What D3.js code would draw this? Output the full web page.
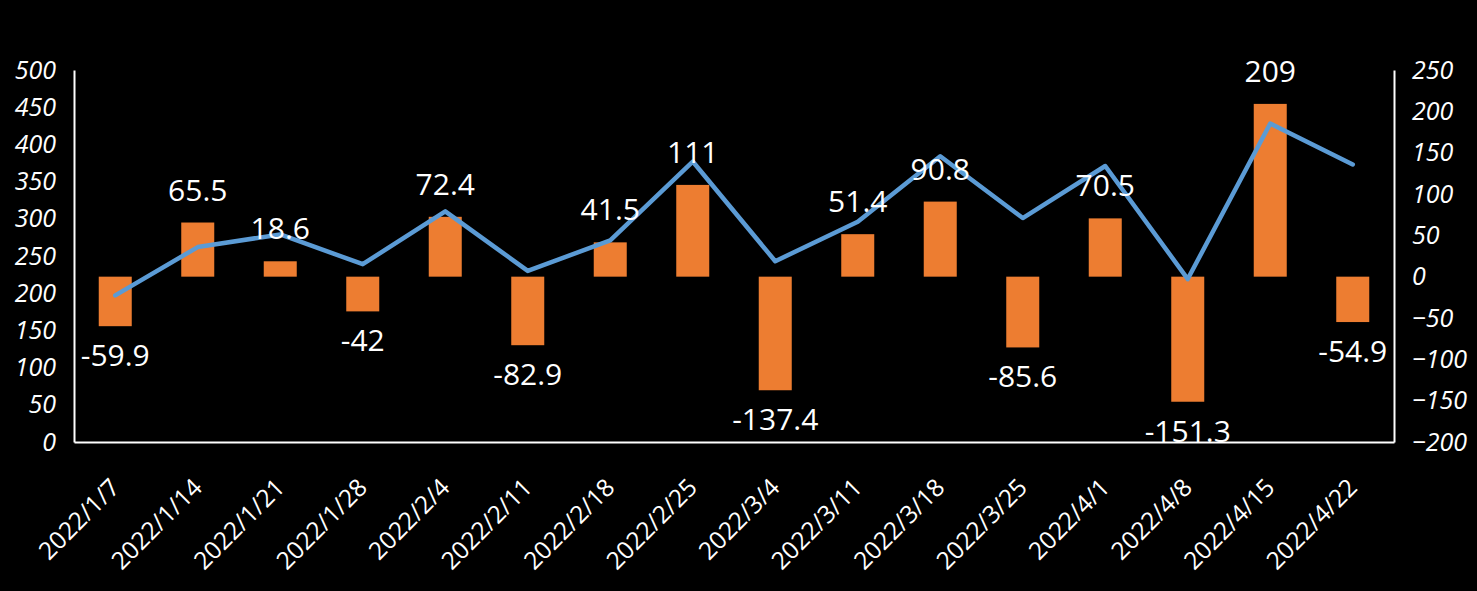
<!DOCTYPE html>
<html>
<head>
<meta charset="utf-8">
<script src="https://cdn.jsdelivr.net/npm/d3@7"></script>
<style>
  html, body { margin: 0; padding: 0; background: #000; }
  svg { display: block; }
  text { font-family: "Open Sans", "Liberation Sans", sans-serif; fill: #fff; }
</style>
</head>
<body>
<script>
const categories = ["2022/1/7","2022/1/14","2022/1/21","2022/1/28","2022/2/4","2022/2/11","2022/2/18","2022/2/25","2022/3/4","2022/3/11","2022/3/18","2022/3/25","2022/4/1","2022/4/8","2022/4/15","2022/4/22"];
const barValues = [-59.9, 65.5, 18.6, -42, 72.4, -82.9, 41.5, 111, -137.4, 51.4, 90.8, -85.6, 70.5, -151.3, 209, -54.9];
const lineValues = [197, 262, 279, 239, 310, 230, 271, 377, 243, 296, 384, 301, 371, 219, 428, 373];
const leftTicks = [0, 50, 100, 150, 200, 250, 300, 350, 400, 450, 500];
const rightTicks = [-200, -150, -100, -50, 0, 50, 100, 150, 200, 250];

const W = 1477, H = 591;
const m = { left: 74, right: 83, top: 70, bottom: 149 };
const iw = W - m.left - m.right, ih = H - m.top - m.bottom;

const svg = d3.select("body").append("svg").attr("width", W).attr("height", H);
svg.append("rect").attr("width", W).attr("height", H).attr("fill", "#000");
const g = svg.append("g").attr("transform", `translate(${m.left},${m.top})`);

const xc = d3.scaleBand().domain(categories).range([0, iw]);
const yL = d3.scaleLinear().domain([0, 500]).range([ih, 0]);
const yR = d3.scaleLinear().domain([-200, 250]).range([ih, 0]);

// bars
g.selectAll("rect.bar").data(barValues).join("rect")
  .attr("class", "bar")
  .attr("x", (d, i) => xc(categories[i]) + xc.bandwidth() / 2 - 16.5)
  .attr("width", 33)
  .attr("y", d => d >= 0 ? yR(d) : yR(0))
  .attr("height", d => Math.abs(yR(d) - yR(0)))
  .attr("fill", "#ED7D31");

// line
const line = d3.line()
  .x((d, i) => xc(categories[i]) + xc.bandwidth() / 2)
  .y(d => yL(d));
g.append("path").datum(lineValues)
  .attr("d", line)
  .attr("fill", "none")
  .attr("stroke", "#5B9BD5")
  .attr("stroke-width", 4.5)
  .attr("stroke-linejoin", "round")
  .attr("stroke-linecap", "round");

// axes
const axL = g.append("g").call(d3.axisLeft(yL).tickValues(leftTicks).tickSize(0).tickPadding(18));
axL.select(".domain").attr("stroke", "#fff").attr("stroke-width", 2);
axL.selectAll("text").attr("font-size", 25).attr("font-style", "italic").attr("fill", "#fff");

const axR = g.append("g").attr("transform", `translate(${iw},0)`)
  .call(d3.axisRight(yR).tickValues(rightTicks).tickSize(0).tickPadding(18));
axR.select(".domain").attr("stroke", "#fff").attr("stroke-width", 2);
axR.selectAll("text").attr("font-size", 25).attr("font-style", "italic").attr("fill", "#fff");

const axB = g.append("g").attr("transform", `translate(0,${ih})`)
  .call(d3.axisBottom(xc).tickSize(0).tickFormat(d => d));
axB.select(".domain").attr("stroke", "#fff").attr("stroke-width", 2);
axB.selectAll("text")
  .attr("font-size", 24.5)
  .attr("fill", "#fff")
  .attr("text-anchor", "end")
  .attr("dy", null)
  .attr("y", null)
  .attr("transform", "translate(6,47) rotate(-45)");

// bar labels
g.selectAll("text.blabel").data(barValues).join("text")
  .attr("class", "blabel")
  .attr("x", (d, i) => xc(categories[i]) + xc.bandwidth() / 2)
  .attr("y", d => d >= 0 ? yR(d) - 22 : yR(d) + 40)
  .attr("text-anchor", "middle")
  .attr("font-size", 30)
  .attr("fill", "#fff")
  .text(d => String(d));
</script>
</body>
</html>
